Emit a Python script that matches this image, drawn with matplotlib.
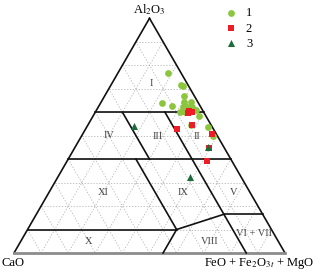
import numpy as np
import matplotlib as mpl
import matplotlib.pyplot as plt

mpl.use('Agg')
plt.rcParams['font.family'] = ['Liberation Serif', 'DejaVu Serif']
plt.rcParams['mathtext.fontset'] = 'stix'

# group 1 (green circles): Al2O3, FeO+Fe2O3t+MgO, CaO in %
g1_al = [76.5, 71.6, 71.2, 66.8, 63.8, 62.8, 64.3, 64.3, 62.2, 62.2, 62.2, 60.1, 60.1, 60.8, 58.2, 53.7, 49.9, 54.5]
g1_fe = [18.4, 25.8, 26.9, 29.3, 22.6, 27.0, 30.6, 33.2, 31.4, 32.6, 34.5, 31.2, 33.0, 36.8, 39.0, 44.8, 48.5, 38.1]
# group 2 (red squares)
g2_al = [60.5, 59.9, 59.7, 54.4, 53.0, 50.6, 44.9, 39.1]
g2_fe = [34.3, 35.9, 34.4, 38.4, 33.8, 47.7, 49.6, 51.6]
# group 3 (dark green triangles)
g3_al = [54.1, 45.3, 32.5]
g3_fe = [17.2, 48.8, 48.7]

region_names = ['I', 'II', 'III', 'IV', 'V', 'VI + VII', 'VIII', 'IX', 'X', 'XI']
region_al = [72.3, 49.6, 49.6, 49.9, 25.7, 8.4, 4.8, 25.7, 5.1, 25.7]
region_fe = [14.7, 42.6, 28.2, 10.2, 68.1, 84.4, 69.9, 49.6, 25.1, 19.9]

# field boundaries as (Al2O3, Fe) pairs in %
bounds = [
    [(10, 0), (10, 55)],
    [(40, 0), (40, 60)],
    [(60, 0), (60, 40)],
    [(60, 10), (40, 30)],
    [(60, 25.7), (0, 85.7)],
    [(40, 25), (10, 55)],
    [(10, 55), (0, 55)],
    [(10, 55), (16.5, 69.2)],
    [(16.5, 69.2), (16.5, 83.5)],
]


def tern(al, fe):
    al = np.asarray(al, dtype=float) / 100
    fe = np.asarray(fe, dtype=float) / 100
    return fe + al / 2, al * np.sqrt(3) / 2


fig = plt.figure(figsize=(3.17, 2.75), dpi=100)
ax = fig.add_axes([0, 0, 1, 1])
ax.set_xlim(-14 / 271, 303 / 271)
ax.set_ylim(-22 / 271, 253 / 271)
ax.axis('off')

# dotted grid
for v in range(10, 100, 10):
    for p, q in [((v, 0), (v, 100 - v)), ((0, v), (100 - v, v)), ((100 - v, 0), (0, 100 - v))]:
        x, y = tern([p[0], q[0]], [p[1], q[1]])
        ax.plot(x, y, color='#b4b4b4', lw=0.6, ls=(0, (1.5, 2)), zorder=1)

# triangle edges
x, y = tern([0, 100, 0], [0, 0, 100])
ax.plot(x[:2], y[:2], color='#111111', lw=1.2, zorder=2)
ax.plot(x[1:], y[1:], color='#111111', lw=1.2, zorder=2)
ax.plot([x[0], x[2]], [y[0], y[2]], color='#8c8c8c', lw=2, zorder=2)

for b in bounds:
    x, y = tern([b[0][0], b[1][0]], [b[0][1], b[1][1]])
    ax.plot(x, y, color='#111111', lw=1.2, zorder=2)

for name, a, f in zip(region_names, region_al, region_fe):
    x, y = tern(a, f)
    ax.text(x, y, name, fontsize=7.5, ha='center', va='center', color='#444444', zorder=3)

x, y = tern(g1_al, g1_fe)
ax.scatter(x, y, s=24, marker='o', color='#8cc63e', label='1', zorder=4, linewidths=0)
x, y = tern(g2_al, g2_fe)
ax.scatter(x, y, s=22, marker='s', color='#ee1c25', label='2', zorder=5, linewidths=0)
x, y = tern(g3_al, g3_fe)
ax.scatter(x, y, s=26, marker='^', color='#1c6b3a', label='3', zorder=6, linewidths=0)

ax.text(0.5, 0.900, 'Al$_2$O$_3$', fontsize=9, ha='center', va='center')
ax.text(-0.045, -0.037, 'CaO', fontsize=9, ha='left', va='center')
ax.text(1.107, -0.037, 'FeO + Fe$_2$O$_{3t}$ + MgO', fontsize=9, ha='right', va='center')

ax.legend(loc='upper left', bbox_to_anchor=(0.685, 1.005), frameon=False, fontsize=9,
          handlelength=0.8, handletextpad=0.8, labelspacing=0.25, borderpad=0.2,
          scatterpoints=1)

plt.savefig('out.png', dpi=100)
